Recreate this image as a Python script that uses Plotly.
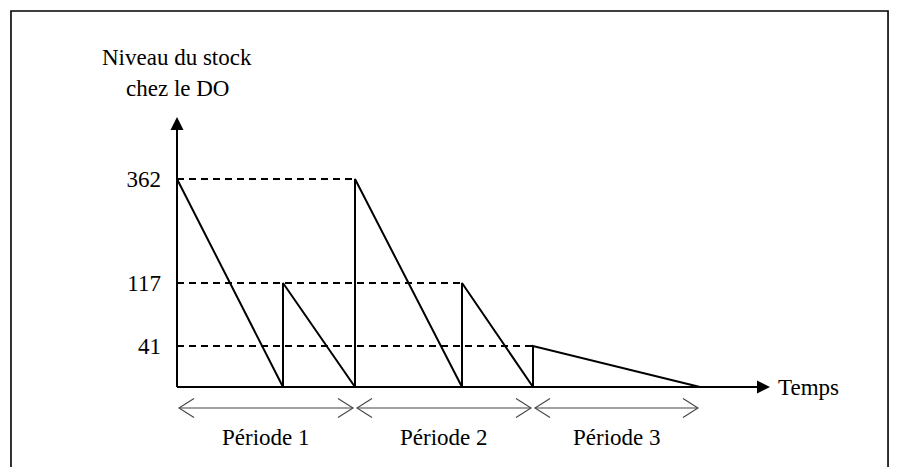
import plotly.graph_objects as go

# ---- data (schematic units) ----
level_labels = ["362", "117", "41"]          # stock levels shown on the axis
level_heights = [208, 104, 41]               # schematic heights of those levels
replenish_t = [0, 106, 178, 285, 356]        # replenishment instants
empty_t = [106, 178, 285, 356, 523]          # stock-out instants
replenish_level = [0, 1, 0, 1, 2]            # index into level_labels
period_labels = ["Période 1", "Période 2", "Période 3"]
period_bounds = [0, 178, 356, 523]
axis_t_max = 593
axis_h_max = 270

FONT = "Liberation Serif"
FS = 23
fig = go.Figure()

# sawtooth stock curve
xs, ys = [], []
for t0, t1, li in zip(replenish_t, empty_t, replenish_level):
    h = level_heights[li]
    xs += [t0, t0, t1]
    ys += [0, h, 0]
fig.add_trace(go.Scatter(x=xs, y=ys, mode="lines",
                         line=dict(color="black", width=2), hoverinfo="skip"))

# dashed reference lines: to the last replenishment at each level
for li, h in enumerate(level_heights):
    last_t = max(t for t, l in zip(replenish_t, replenish_level) if l == li)
    fig.add_trace(go.Scatter(x=[0, last_t], y=[h, h], mode="lines",
                             line=dict(color="black", width=1.8, dash="7px,5px"),
                             hoverinfo="skip"))

# axes lines with arrowheads
fig.add_trace(go.Scatter(x=[0, 0], y=[0, axis_h_max - 12], mode="lines",
                         line=dict(color="black", width=2), hoverinfo="skip"))
fig.add_trace(go.Scatter(x=[0, axis_t_max - 12], y=[0, 0], mode="lines",
                         line=dict(color="black", width=2), hoverinfo="skip"))
fig.add_annotation(x=0, y=axis_h_max, ax=0, ay=axis_h_max - 14, axref="x", ayref="y",
                   xref="x", yref="y", text="", showarrow=True,
                   arrowhead=2, arrowsize=1.3, arrowwidth=2, arrowcolor="black")
fig.add_annotation(x=axis_t_max, y=0, ax=axis_t_max - 14, ay=0, axref="x", ayref="y",
                   xref="x", yref="y", text="", showarrow=True,
                   arrowhead=2, arrowsize=1.3, arrowwidth=2, arrowcolor="black")

# period double arrows
ARM_L, ARM_H, GAP, PY = 15, 9.5, 2, -21
for i, lab in enumerate(period_labels):
    a = period_bounds[i] + GAP
    b = period_bounds[i + 1] - GAP
    fig.add_trace(go.Scatter(
        x=[a + ARM_L, a, a + ARM_L, None, a, b, None, b - ARM_L, b, b - ARM_L],
        y=[PY + ARM_H, PY, PY - ARM_H, None, PY, PY, None, PY + ARM_H, PY, PY - ARM_H],
        mode="lines", line=dict(color="#444", width=1.1), hoverinfo="skip"))
    fig.add_annotation(x=(period_bounds[i] + period_bounds[i + 1]) / 2, y=-50,
                       xref="x", yref="y", text=lab, showarrow=False,
                       font=dict(family=FONT, size=FS, color="black"))

# axis titles
fig.add_annotation(x=axis_t_max, y=0, xref="x", yref="y", text="Temps",
                   showarrow=False, xanchor="left", xshift=6,
                   font=dict(family=FONT, size=FS, color="black"))
fig.add_annotation(x=0, y=330, xref="x", yref="y", text="Niveau du stock",
                   showarrow=False, font=dict(family=FONT, size=FS, color="black"))
fig.add_annotation(x=0, y=299, xref="x", yref="y", text="chez le DO",
                   showarrow=False, font=dict(family=FONT, size=FS, color="black"))

# outer frame (left, top, right)
fig.add_shape(type="path", xref="paper", yref="paper",
              path="M 0.0122,-0.1 L 0.0122,0.9764 L 0.9867,0.9764 L 0.9867,-0.1",
              line=dict(color="black", width=1.6))

fig.update_layout(
    width=900, height=467,
    margin=dict(l=0, r=0, t=0, b=0),
    paper_bgcolor="white", plot_bgcolor="white",
    showlegend=False,
    xaxis=dict(range=[-177, 723], visible=False, fixedrange=True),
    yaxis=dict(range=[-80, 387], fixedrange=True,
               tickvals=level_heights, ticktext=level_labels,
               showgrid=False, zeroline=False, showline=False, ticks="",
               anchor="free", position=177 / 900, automargin=False,
               ticklabelstandoff=16,
               tickfont=dict(family=FONT, size=FS, color="black")),
)

fig.write_html("out.html", config={"displayModeBar": False},
               post_script="document.body.style.margin='0';document.body.style.overflow='hidden';")
